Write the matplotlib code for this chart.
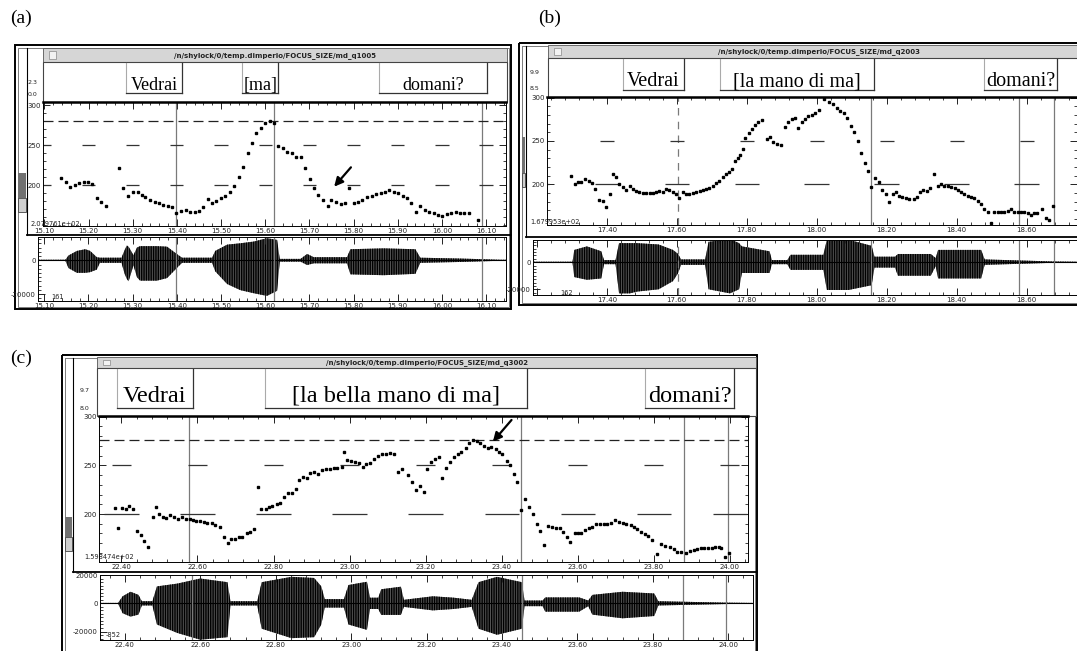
import matplotlib
matplotlib.use("Agg")
import matplotlib.pyplot as plt
from matplotlib.patches import Rectangle
from matplotlib.ticker import MultipleLocator

W, H = 1077, 651
plt.rcParams["hatch.linewidth"] = 1.0

# ---------------- panel (a): "Vedrai [ma] domani?" ----------------
a_time = [15.138, 15.149, 15.159, 15.169, 15.179, 15.189, 15.199, 15.209, 15.219, 15.229,
          15.239, 15.269, 15.279, 15.289, 15.300, 15.311, 15.320, 15.329, 15.339, 15.350,
          15.359, 15.369, 15.380, 15.389, 15.399, 15.410, 15.420, 15.429, 15.440, 15.450,
          15.459, 15.470, 15.480, 15.489, 15.500, 15.510, 15.520, 15.530, 15.540, 15.550,
          15.560, 15.570, 15.580, 15.590, 15.600, 15.610, 15.620, 15.630, 15.640, 15.650,
          15.660, 15.670, 15.680, 15.690, 15.702, 15.711, 15.720, 15.730, 15.741, 15.750,
          15.760, 15.771, 15.780, 15.790, 15.801, 15.811, 15.820, 15.831, 15.841, 15.850,
          15.861, 15.871, 15.880, 15.891, 15.901, 15.911, 15.921, 15.931, 15.941, 15.951,
          15.961, 15.971, 15.981, 15.991, 16.001, 16.011, 16.021, 16.031, 16.041, 16.051,
          16.061, 16.081]
a_f0 = [208.3, 204.2, 197.9, 200.0, 202.1, 204.2, 204.2, 201.2, 183.3, 179.2,
        174.2, 220.8, 195.8, 186.7, 191.7, 190.8, 187.5, 185.4, 181.3, 179.2,
        177.1, 175.0, 173.8, 172.9, 164.6, 167.9, 168.8, 166.7, 166.7, 167.9,
        172.9, 182.1, 177.1, 180.0, 183.3, 186.7, 190.8, 199.2, 210.4, 222.1,
        239.6, 252.1, 264.6, 271.7, 277.9, 280.0, 277.9, 248.8, 246.7, 241.7,
        239.6, 235.4, 235.4, 221.7, 207.1, 195.8, 187.5, 181.3, 174.2, 181.3,
        179.2, 176.3, 177.1, 195.8, 177.9, 179.2, 181.3, 184.6, 186.7, 188.8,
        189.6, 191.7, 193.8, 191.7, 189.6, 186.7, 183.3, 177.9, 166.7, 173.8,
        168.8, 166.7, 165.4, 162.5, 161.7, 163.8, 165.4, 166.7, 165.4, 164.6,
        164.6, 156.3]
a_wav_t = [15.086, 15.148, 15.155, 15.174, 15.193, 15.204, 15.219, 15.226, 15.275, 15.282,
           15.287, 15.291, 15.302, 15.310, 15.317, 15.355, 15.378, 15.400, 15.412, 15.480,
           15.487, 15.514, 15.544, 15.574, 15.604, 15.627, 15.633, 15.680, 15.695, 15.710,
           15.785, 15.793, 15.868, 15.940, 15.951, 16.042, 16.132, 16.145]
a_wav_hi = [300, 300, 2800, 5500, 6500, 5500, 1800, 1500, 1500, 6000,
            8700, 8000, 3000, 7500, 8300, 8300, 8000, 3700, 1500, 1500,
            5500, 9200, 10000, 11000, 13000, 12000, 800, 800, 3700, 1800,
            1800, 6500, 7000, 6500, 1500, 1000, 300, 300]
a_wav_lo = [-300, -300, -4600, -7400, -7400, -7000, -5500, -1500, -1500, -8000,
            -11000, -12400, -3000, -10000, -12000, -12000, -10500, -4600, -1500, -1500,
            -6500, -14000, -17600, -19400, -21000, -18000, -800, -800, -2800, -1800,
            -1800, -8300, -8800, -8000, -1500, -1000, -300, -300]
a_words = ["Vedrai", "[ma]", "domani?"]
a_word_start = [15.286, 15.547, 15.858]
a_word_end = [15.411, 15.630, 16.102]
a_bounds = [15.398, 15.619, 16.090]
a_bound_ls = ["-", "-", "-"]
a_ticks = [15.10, 15.20, 15.30, 15.40, 15.50, 15.60, 15.70, 15.80, 15.90, 16.00, 16.10]
a_ref = 280.4
a_arrow = [(15.794, 222.1), (15.756, 197.9)]
a_path = "/n/shylock/0/temp.dimperio/FOCUS_SIZE/md_q1005"

# ---------------- panel (b): "Vedrai [la mano di ma] domani?" ----------------
b_time = [17.297, 17.308, 17.317, 17.327, 17.338, 17.348, 17.357, 17.367, 17.378, 17.388,
          17.397, 17.408, 17.417, 17.427, 17.436, 17.446, 17.455, 17.465, 17.474, 17.484,
          17.493, 17.503, 17.512, 17.522, 17.531, 17.541, 17.550, 17.560, 17.570, 17.579,
          17.589, 17.598, 17.607, 17.617, 17.627, 17.636, 17.646, 17.655, 17.665, 17.674,
          17.684, 17.693, 17.703, 17.712, 17.722, 17.731, 17.741, 17.750, 17.759, 17.767,
          17.774, 17.781, 17.789, 17.795, 17.805, 17.814, 17.824, 17.833, 17.845, 17.857,
          17.867, 17.876, 17.886, 17.897, 17.908, 17.919, 17.929, 17.938, 17.947, 17.957,
          17.967, 17.976, 17.986, 17.995, 18.007, 18.020, 18.036, 18.046, 18.058, 18.067,
          18.077, 18.086, 18.098, 18.107, 18.118, 18.127, 18.137, 18.146, 18.156, 18.167,
          18.177, 18.186, 18.198, 18.207, 18.217, 18.226, 18.236, 18.245, 18.255, 18.264,
          18.277, 18.286, 18.296, 18.305, 18.315, 18.324, 18.335, 18.346, 18.356, 18.365,
          18.375, 18.384, 18.394, 18.403, 18.413, 18.422, 18.432, 18.441, 18.451, 18.460,
          18.470, 18.479, 18.489, 18.498, 18.508, 18.517, 18.527, 18.536, 18.546, 18.555,
          18.565, 18.574, 18.584, 18.593, 18.603, 18.612, 18.622, 18.631, 18.643, 18.654,
          18.663, 18.676]
b_f0 = [209.6, 200.0, 203.1, 203.1, 205.8, 203.8, 201.2, 194.2, 181.5, 180.8,
        174.2, 188.5, 211.9, 208.5, 200.8, 197.3, 193.5, 198.5, 194.2, 192.7,
        191.5, 190.4, 190.4, 190.4, 189.6, 191.5, 192.7, 191.5, 194.2, 193.5,
        191.5, 188.8, 184.6, 191.5, 188.8, 188.8, 190.4, 190.8, 192.3, 193.5,
        194.2, 196.2, 198.5, 201.2, 204.2, 208.8, 211.9, 213.8, 217.7, 227.3,
        230.8, 233.8, 240.8, 253.1, 258.8, 263.5, 268.5, 272.3, 274.2, 252.3,
        254.2, 248.5, 246.2, 245.4, 265.8, 272.3, 275.0, 276.9, 264.6, 271.5,
        275.4, 279.2, 280.0, 282.7, 285.8, 299.0, 295.4, 292.3, 288.5, 285.0,
        281.9, 276.2, 267.7, 260.0, 250.0, 236.5, 224.2, 215.4, 197.3, 207.7,
        203.1, 193.5, 188.5, 180.0, 188.5, 191.5, 186.5, 184.9, 183.8, 183.1,
        182.7, 185.8, 191.5, 193.5, 192.7, 196.2, 211.5, 198.5, 200.0, 198.5,
        198.1, 197.3, 195.4, 193.5, 191.5, 188.5, 186.9, 185.8, 183.8, 180.8,
        176.9, 171.2, 167.7, 155.0, 167.7, 167.7, 168.5, 168.5, 169.6, 171.2,
        168.5, 168.5, 167.7, 167.7, 166.5, 164.6, 166.5, 167.3, 171.2, 160.8,
        158.8, 175.0]
b_wav_t = [17.189, 17.302, 17.307, 17.343, 17.384, 17.392, 17.425, 17.435, 17.466, 17.486,
           17.548, 17.589, 17.604, 17.612, 17.681, 17.691, 17.752, 17.778, 17.786, 17.865,
           17.872, 17.916, 17.925, 18.019, 18.029, 18.091, 18.157, 18.165, 18.224, 18.232,
           18.326, 18.340, 18.347, 18.470, 18.480, 18.674, 18.744]
b_wav_hi = [300, 300, 9000, 11600, 8000, 1500, 1500, 14000, 14000, 14000,
            13000, 9000, 6000, 2000, 2000, 15000, 17000, 14000, 11600, 8000,
            1500, 1500, 5400, 5400, 16500, 16500, 12000, 4000, 4000, 6000,
            6000, 3000, 9000, 9000, 2000, 500, 300]
b_wav_lo = [-300, -300, -11000, -13000, -12000, -1500, -1500, -23000, -23000, -21700,
            -20000, -14000, -8000, -2000, -2000, -20000, -23000, -20000, -8000, -8000,
            -1500, -1500, -5700, -5700, -20500, -20500, -17000, -4000, -4000, -10000,
            -10000, -3000, -12000, -12000, -2000, -500, -300]
b_words = ["Vedrai", "[la mano di ma]", "domani?"]
b_word_start = [17.445, 17.724, 18.479]
b_word_end = [17.622, 18.164, 18.687]
b_bounds = [17.603, 18.156, 18.577, 18.677]
b_bound_ls = [(0, (6, 5)), "-", "-", "-"]
b_ticks = [17.20, 17.40, 17.60, 17.80, 18.00, 18.20, 18.40, 18.60, 18.80]
b_path = "/n/shylock/0/temp.dimperio/FOCUS_SIZE/md_q2003"

# ---------------- panel (c): "Vedrai [la bella mano di ma] domani?" ----------------
c_time = [22.382, 22.391, 22.402, 22.411, 22.420, 22.431, 22.441, 22.451, 22.460, 22.469,
          22.482, 22.490, 22.499, 22.510, 22.518, 22.529, 22.539, 22.549, 22.560, 22.569,
          22.580, 22.588, 22.597, 22.606, 22.617, 22.626, 22.637, 22.647, 22.659, 22.669,
          22.679, 22.689, 22.698, 22.709, 22.718, 22.729, 22.738, 22.748, 22.759, 22.768,
          22.779, 22.788, 22.797, 22.808, 22.818, 22.828, 22.838, 22.849, 22.859, 22.867,
          22.878, 22.888, 22.897, 22.907, 22.917, 22.928, 22.937, 22.948, 22.958, 22.968,
          22.979, 22.985, 22.994, 23.003, 23.014, 23.024, 23.036, 23.044, 23.055, 23.065,
          23.075, 23.086, 23.095, 23.106, 23.117, 23.128, 23.138, 23.155, 23.164, 23.174,
          23.185, 23.195, 23.205, 23.215, 23.226, 23.235, 23.244, 23.253, 23.264, 23.274,
          23.284, 23.294, 23.305, 23.314, 23.325, 23.335, 23.344, 23.354, 23.364, 23.373,
          23.384, 23.393, 23.402, 23.413, 23.421, 23.432, 23.441, 23.452, 23.461, 23.472,
          23.483, 23.492, 23.502, 23.512, 23.521, 23.533, 23.542, 23.553, 23.562, 23.572,
          23.581, 23.592, 23.601, 23.610, 23.619, 23.629, 23.639, 23.649, 23.660, 23.669,
          23.677, 23.687, 23.699, 23.709, 23.718, 23.728, 23.739, 23.747, 23.756, 23.766,
          23.776, 23.785, 23.796, 23.809, 23.820, 23.831, 23.842, 23.853, 23.862, 23.873,
          23.886, 23.896, 23.905, 23.915, 23.924, 23.932, 23.943, 23.952, 23.960, 23.971,
          23.978, 23.987, 23.997]
c_f0 = [206.5, 185.2, 206.5, 205.1, 208.2, 204.8, 182.8, 178.4, 172.6, 166.4,
        197.2, 206.8, 200.0, 196.5, 195.5, 198.9, 196.5, 194.8, 196.5, 194.8,
        194.5, 193.8, 193.1, 193.1, 192.1, 190.4, 190.4, 188.7, 187.0, 176.0,
        169.8, 173.9, 174.3, 176.0, 176.0, 180.1, 181.8, 184.5, 227.4, 204.8,
        204.8, 206.8, 208.5, 209.9, 210.9, 217.1, 221.2, 221.9, 225.7, 234.9,
        238.3, 237.3, 241.8, 242.8, 241.1, 245.2, 245.9, 246.2, 246.9, 247.6,
        247.9, 263.3, 255.5, 254.8, 253.7, 252.7, 247.9, 251.4, 252.0, 256.1,
        259.6, 261.3, 261.6, 262.3, 261.6, 243.5, 245.9, 240.0, 233.2, 224.6,
        228.7, 222.9, 245.9, 253.7, 256.1, 258.9, 236.6, 246.9, 253.7, 258.9,
        261.6, 264.0, 267.5, 272.6, 276.0, 275.0, 272.6, 269.9, 267.5, 268.5,
        266.4, 264.0, 261.3, 254.4, 250.3, 241.1, 233.2, 204.1, 215.0, 206.8,
        200.0, 189.7, 182.8, 168.1, 187.6, 186.3, 185.2, 185.2, 181.8, 176.7,
        171.5, 180.1, 180.1, 180.8, 183.5, 185.2, 186.9, 189.3, 189.7, 189.7,
        189.7, 191.1, 193.8, 191.4, 190.4, 189.3, 188.7, 186.3, 184.5, 181.8,
        179.4, 177.4, 173.2, 158.9, 169.1, 167.1, 165.7, 163.6, 161.2, 161.2,
        159.5, 162.3, 163.0, 163.6, 164.7, 164.7, 165.4, 165.4, 165.7, 166.4,
        165.4, 156.1, 160.2]
c_wav_t = [22.334, 22.382, 22.394, 22.415, 22.436, 22.445, 22.473, 22.485, 22.539, 22.600,
           22.672, 22.680, 22.751, 22.763, 22.842, 22.902, 22.921, 22.930, 22.981, 22.993,
           23.042, 23.050, 23.072, 23.080, 23.132, 23.140, 23.217, 23.272, 23.320, 23.338,
           23.387, 23.453, 23.460, 23.508, 23.515, 23.605, 23.629, 23.640, 23.720, 23.804,
           23.815, 23.992, 24.066]
c_wav_hi = [300, 300, 5000, 8200, 6000, 1500, 1500, 12000, 14000, 17600,
            15000, 1500, 1500, 15000, 18800, 18000, 12000, 3000, 3000, 13000,
            15300, 4000, 4000, 10000, 11800, 2500, 5000, 4000, 2500, 15000,
            18800, 15000, 2000, 2000, 4200, 4200, 2000, 6000, 8200, 7000,
            1500, 500, 300]
c_wav_lo = [-300, -300, -7000, -9400, -8000, -1500, -1500, -15000, -21000, -25800,
            -24000, -1500, -1500, -18000, -24700, -24000, -15000, -3000, -3000, -15000,
            -18800, -4000, -4000, -8200, -8200, -2500, -5000, -4000, -2500, -18000,
            -22300, -18000, -2000, -2000, -5900, -5900, -2000, -8000, -10600, -9000,
            -1500, -500, -300]
c_words = ["Vedrai", "[la bella mano di ma]", "domani?"]
c_word_start = [22.388, 22.778, 23.777]
c_word_end = [22.587, 23.468, 24.011]
c_bounds = [22.578, 23.452, 23.880, 23.995]
c_bound_ls = ["-", "-", "-", "-"]
c_ticks = [22.40, 22.60, 22.80, 23.00, 23.20, 23.40, 23.60, 23.80, 24.00]
c_ref = 276.5
c_arrow = [(23.426, 296.6), (23.377, 274.3)]
c_path = "/n/shylock/0/temp.dimperio/FOCUS_SIZE/md_q3002"

SERIF = "Liberation Serif"
TICK = "#222222"


def px_axes(fig, box):
    x0, y0, x1, y1 = box
    return fig.add_axes([x0 / W, 1 - y1 / H, (x1 - x0) / W, (y1 - y0) / H])


def tick_text(ticks, lim):
    return ["%.2f" % t if lim[0] <= t <= lim[1] else "" for t in ticks]


def draw_panel(fig, bg, lay, d):
    fx0, fy0, fx1, fy1 = lay["frame"]
    bg.text(lay["tag_xy"][0], lay["tag_xy"][1], lay["tag"], family=SERIF, fontsize=14,
            ha="left", va="center")

    # window frame + left scroll strip
    bg.add_patch(Rectangle((fx0, fy0), fx1 - fx0, fy1 - fy0, fill=False, lw=1.4, ec="black"))
    bg.add_patch(Rectangle((fx0 + 2.5, fy0 + 2.5), fx1 - fx0 - 5, fy1 - fy0 - 5,
                           fill=False, lw=0.6, ec="#666666"))
    sx = lay["strip"]
    bg.plot([sx, sx], [fy0 + 3, lay["pitch_bottom"]], color="black", lw=0.8)
    gy0, gy1 = lay["grip"]
    bg.add_patch(Rectangle((fx0 + 3, gy0), sx - fx0 - 4, gy1 - gy0, fc="#707070", ec="none"))
    bg.add_patch(Rectangle((fx0 + 3, gy1), sx - fx0 - 4, 14, fc="#cfcfcf", ec="#444444", lw=0.6))

    # title bar with file path
    tx0, ty0, tx1, ty1 = lay["title"]
    bg.add_patch(Rectangle((tx0, ty0), tx1 - tx0, ty1 - ty0, fc="#d6d6d6", ec="#555555", lw=0.6))
    bg.add_patch(Rectangle((tx0 + 6, ty0 + 3), 7, ty1 - ty0 - 6, fc="#f2f2f2", ec="#888888", lw=0.5))
    bg.text((tx0 + tx1) / 2, (ty0 + ty1) / 2 + 0.5, d["path"], ha="center", va="center",
            fontsize=5, fontweight="bold", color="#222222")

    # label tier
    lx0, ly0, lx1, ly1 = lay["tier"]
    bg.add_patch(Rectangle((lx0, ly0), lx1 - lx0, ly1 - ly0, fc="white", ec="#444444", lw=0.8))
    for txt, (x, y) in zip(lay["side_labels"], lay["side_xy"]):
        bg.text(x, y, txt, fontsize=4.5, color=TICK, ha="left", va="center")

    px0, py0, px1, py1 = lay["pitch"]
    tier = px_axes(fig, (px0, ly0, px1, ly1))
    tier.set_xlim(*lay["pitch_xlim"])
    tier.set_ylim(0, 1)
    tier.axis("off")
    yb = lay["box_bottom"]
    for w, s, e in zip(d["words"], d["start"], d["end"]):
        tier.plot([s, s], [yb, 0.98], color="#aaaaaa", lw=0.8)
        tier.plot([s, e], [yb, yb], color="#333333", lw=0.9)
        tier.plot([e, e], [yb, 0.98], color="#333333", lw=0.9)
        tier.text((s + e) / 2, lay["baseline"], w, family=SERIF, fontsize=lay["word_size"],
                  ha="center", va="baseline")

    # pitch track
    ax = px_axes(fig, lay["pitch"])
    ax.set_facecolor("none")
    ax.plot(d["time"], d["f0"], ls="none", marker="s", ms=2.0, color="black", zorder=3)
    for t, ls in zip(d["bounds"], d["bound_ls"]):
        ax.axvline(t, color="#7a7a7a", lw=0.9, ls=ls)
    for lvl, hw in zip([250, 200], lay["dash_half"]):
        ax.hlines([lvl] * len(d["ticks"]), [t - hw for t in d["ticks"]],
                  [t + hw for t in d["ticks"]], color="#333333", lw=0.9)
    if d.get("ref"):
        ax.axhline(d["ref"], color="#222222", lw=0.9, ls=(0, (8, 4)))
    if d.get("arrow"):
        tail, tip = d["arrow"]
        ax.annotate("", xy=tip, xytext=tail,
                    arrowprops=dict(arrowstyle="-|>", mutation_scale=13, lw=1.6,
                                    color="black", shrinkA=0, shrinkB=0))
    ax.set_xticks(d["ticks"], tick_text(d["ticks"], lay["pitch_xlim"]))
    ax.xaxis.set_minor_locator(MultipleLocator(lay["minor"]))
    ax.set_yticks([200, 250, 300], ["200", "250", "300"])
    ax.yaxis.set_minor_locator(MultipleLocator(10))
    ax.set_xlim(*lay["pitch_xlim"])
    ax.set_ylim(*lay["pitch_ylim"])
    ax.tick_params(which="both", direction="in", top=True, right=True, labelsize=5,
                   pad=1.5, colors=TICK)
    ax.tick_params(which="major", length=5, width=0.7)
    ax.tick_params(which="minor", length=2.5, width=0.6)
    for side in ["left", "right", "bottom"]:
        ax.spines[side].set_linewidth(0.7)
    ax.spines["top"].set_linewidth(1.8)
    bg.text(lay["ymin_xy"][0], lay["ymin_xy"][1], d["ymin_label"], fontsize=4.8, color=TICK,
            ha="left", va="center", zorder=5)
    bg.plot([sx, fx1], [lay["pitch_bottom"]] * 2, color="black", lw=1.3)

    # waveform: envelope filled with dense vertical strokes
    wx = px_axes(fig, lay["wave"])
    wx.set_facecolor("none")
    wx.fill_between(d["wav_t"], d["wav_lo"], d["wav_hi"], facecolor="#555555",
                    edgecolor="black", hatch="|||||||", lw=0)
    wx.axhline(0, color="black", lw=0.8)
    for t, ls in zip(d["bounds"], d["bound_ls"]):
        wx.axvline(t, color="#7a7a7a", lw=0.9, ls=ls)
    wx.set_xticks(d["ticks"], tick_text(d["ticks"], lay["pitch_xlim"]))
    wx.xaxis.set_minor_locator(MultipleLocator(lay["minor"]))
    wx.set_yticks(lay["wav_yticks"], [str(v) for v in lay["wav_yticks"]])
    wx.yaxis.set_minor_locator(MultipleLocator(2500))
    wx.set_xlim(*lay["wave_xlim"])
    wx.set_ylim(*lay["wave_ylim"])
    wx.tick_params(which="both", direction="in", top=True, labelsize=5, pad=1.5, colors=TICK)
    wx.tick_params(which="major", length=5, width=0.7)
    wx.tick_params(which="minor", length=2.5, width=0.6)
    for sp in wx.spines.values():
        sp.set_linewidth(0.7)
    bg.text(lay["wav_note_xy"][0], lay["wav_note_xy"][1], d["wav_note"], fontsize=4.8,
            color=TICK, ha="left", va="center")


layout_a = dict(tag="(a)", tag_xy=(10, 18), frame=(15, 45, 511, 309), strip=27, grip=(173, 198),
                title=(43, 48, 507, 62), tier=(43, 62, 507, 102), pitch=(43, 102, 506, 226),
                pitch_bottom=234.5, wave=(38, 237, 506, 301),
                pitch_xlim=(15.097, 16.145), pitch_ylim=(148.75, 303.75),
                wave_xlim=(15.086, 16.145), wave_ylim=(-24000, 13700), wav_yticks=[-20000, 0],
                minor=0.02, dash_half=[0.015, 0.015], box_bottom=0.22, baseline=0.3,
                word_size=13, side_labels=["2.3", "0.0"], side_xy=[(28, 82), (28, 94)],
                ymin_xy=(31, 224), wav_note_xy=(51, 297))
layout_b = dict(tag="(b)", tag_xy=(538, 18), frame=(519, 43, 1100, 305), strip=526, grip=(137, 173),
                title=(548, 45, 1090, 58), tier=(548, 58, 1090, 97), pitch=(547, 97, 1077, 225),
                pitch_bottom=236.5, wave=(533, 240, 1077, 295),
                pitch_xlim=(17.229, 18.744), pitch_ylim=(153, 300.8),
                wave_xlim=(17.189, 18.744), wave_ylim=(-24200, 16300), wav_yticks=[-20000, 0],
                minor=0.04, dash_half=[0.02, 0.035], box_bottom=0.18, baseline=0.28,
                word_size=14.5, side_labels=["9.9", "8.5"], side_xy=[(530, 73), (530, 89)],
                ymin_xy=(530, 222), wav_note_xy=(560, 293))
layout_c = dict(tag="(c)", tag_xy=(10, 358), frame=(62, 355, 757, 660), strip=73, grip=(517, 537),
                title=(97, 357, 756, 368), tier=(97, 368, 756, 416), pitch=(99, 416, 748, 562),
                pitch_bottom=571.5, wave=(100, 575, 753, 640),
                pitch_xlim=(22.341, 24.048), pitch_ylim=(150.7, 300.7),
                wave_xlim=(22.334, 24.066), wave_ylim=(-26000, 20100),
                wav_yticks=[-20000, 0, 20000],
                minor=0.04, dash_half=[0.025, 0.045], box_bottom=0.17, baseline=0.3,
                word_size=17.5, side_labels=["9.7", "8.0"], side_xy=[(80, 391), (80, 408)],
                ymin_xy=(84, 557), wav_note_xy=(106, 635))

data_a = dict(time=a_time, f0=a_f0, wav_t=a_wav_t, wav_hi=a_wav_hi, wav_lo=a_wav_lo,
              words=a_words, start=a_word_start, end=a_word_end, bounds=a_bounds,
              bound_ls=a_bound_ls, ticks=a_ticks, ref=a_ref, arrow=a_arrow, path=a_path,
              ymin_label="2.079761e+02", wav_note="161")
data_b = dict(time=b_time, f0=b_f0, wav_t=b_wav_t, wav_hi=b_wav_hi, wav_lo=b_wav_lo,
              words=b_words, start=b_word_start, end=b_word_end, bounds=b_bounds,
              bound_ls=b_bound_ls, ticks=b_ticks, ref=None, arrow=None, path=b_path,
              ymin_label="1.679953e+02", wav_note="162")
data_c = dict(time=c_time, f0=c_f0, wav_t=c_wav_t, wav_hi=c_wav_hi, wav_lo=c_wav_lo,
              words=c_words, start=c_word_start, end=c_word_end, bounds=c_bounds,
              bound_ls=c_bound_ls, ticks=c_ticks, ref=c_ref, arrow=c_arrow, path=c_path,
              ymin_label="1.598474e+02", wav_note="-852")

fig = plt.figure(figsize=(W / 100, H / 100), dpi=100)
bg = fig.add_axes([0, 0, 1, 1])
bg.set_xlim(0, W)
bg.set_ylim(H, 0)
bg.axis("off")

draw_panel(fig, bg, layout_a, data_a)
draw_panel(fig, bg, layout_b, data_b)
draw_panel(fig, bg, layout_c, data_c)

fig.savefig("out.png", dpi=100)
